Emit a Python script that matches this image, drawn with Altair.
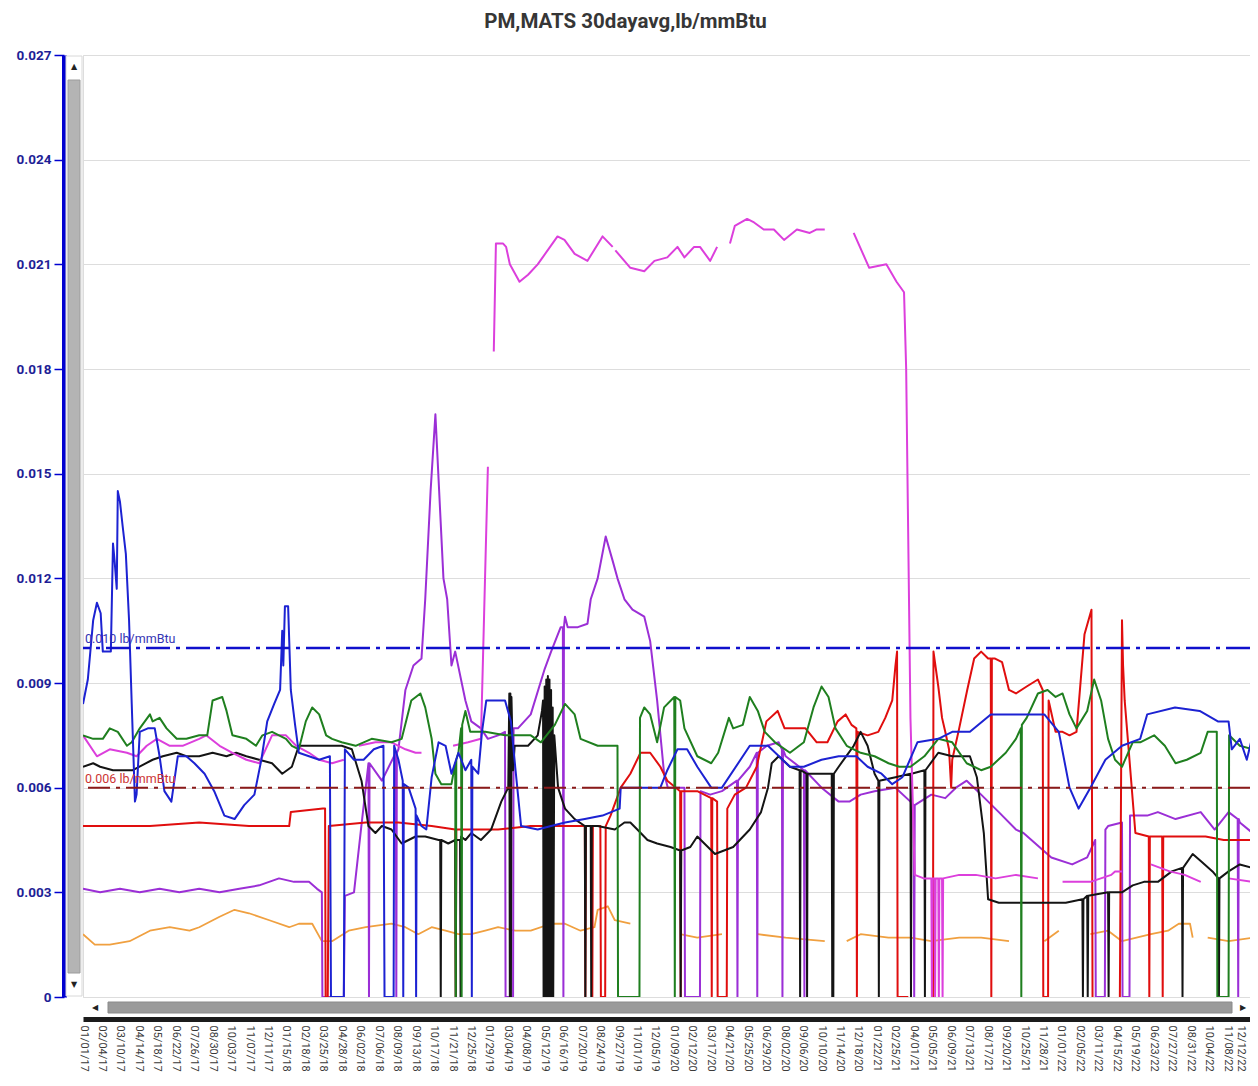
import altair as alt
import pandas as pd

TITLE = "PM,MATS 30dayavg,lb/mmBtu"
START_DATE = "2017-01-01"
END_DATE = "2022-12-20"

TICK_LABELS = [
    "01/01/17", "02/04/17", "03/10/17", "04/14/17", "05/18/17", "06/22/17", "07/26/17", "08/30/17",
    "10/03/17", "11/07/17", "12/11/17", "01/15/18", "02/18/18", "03/25/18", "04/28/18", "06/02/18",
    "07/06/18", "08/09/18", "09/13/18", "10/17/18", "11/21/18", "12/25/18", "01/29/19", "03/04/19",
    "04/08/19", "05/12/19", "06/16/19", "07/20/19", "08/24/19", "09/27/19", "11/01/19", "12/05/19",
    "01/09/20", "02/12/20", "03/17/20", "04/21/20", "05/25/20", "06/29/20", "08/02/20", "09/06/20",
    "10/10/20", "11/14/20", "12/18/20", "01/22/21", "02/25/21", "04/01/21", "05/05/21", "06/09/21",
    "07/13/21", "08/17/21", "09/20/21", "10/25/21", "11/28/21", "01/01/22", "02/05/22", "03/11/22",
    "04/15/22", "05/19/22", "06/23/22", "07/27/22", "08/31/22", "10/04/22", "11/08/22", "12/12/22",
]
Y_TICKS = [0, 0.003, 0.006, 0.009, 0.012, 0.015, 0.018, 0.021, 0.024, 0.027]

LIMIT_VALUES = [0.010, 0.006]
LIMIT_LABELS = ["0.010 lb/mmBtu", "0.006 lb/mmBtu"]

# Each series: list of segments, each segment a list of (days since 2017-01-01, lb/mmBtu)
BLUE = [[
    (0, .0084), (9, .0091), (19, .0108), (26, .0113), (33, .0110), (37, .0099), (52, .0099), (56, .0130),
    (59, .0125), (63, .0117), (65, .0145), (69, .0142), (74, .0135), (80, .0127), (86, .0108), (91, .0084),
    (97, .0056), (100, .0058), (106, .0076), (121, .0077), (134, .0077), (143, .0069), (152, .0059),
    (165, .0056), (177, .0069), (193, .0069), (208, .0067), (227, .0064), (245, .0059), (264, .0052),
    (283, .0051), (301, .0055), (320, .0058), (333, .0068), (344, .0079), (357, .0084), (368, .0088),
    (372, .0105), (374, .0095), (377, .0112), (383, .0112), (388, .0088), (396, .0078), (403, .0070),
    (422, .0069), (441, .0068), (461, .0069), (463, 0), (487, 0), (489, .0071), (506, .0068), (524, .0068),
    (543, .0071), (561, .0072), (563, 0), (580, 0), (581, .0072), (589, .0068), (597, .0062), (598, 0),
    (599, .0061), (608, .0060), (621, .0054), (622, 0), (623, .0052), (632, .0049), (641, .0048),
    (651, .0063), (664, .0073), (677, .0072), (688, .0064), (701, .0070), (714, .0065), (725, .0068),
    (726, 0), (727, .0066), (738, .0064), (745, .0076), (753, .0085), (788, .0085), (799, .0079),
    (807, .0066), (818, .0049), (849, .0048), (874, .0049), (900, .0050), (937, .0051), (970, .0052),
    (1002, .0054), (1004, .0060), (1078, .0060), (1091, .0065), (1110, .0071), (1128, .0071), (1147, .0066),
    (1173, .0060), (1193, .0060), (1245, .0072), (1279, .0072), (1320, .0066), (1346, .0066), (1379, .0068),
    (1411, .0069), (1444, .0069), (1465, .0066), (1491, .0064), (1511, .0061), (1530, .0063), (1558, .0073),
    (1597, .0074), (1623, .0076), (1656, .0076), (1695, .0081), (1756, .0081), (1795, .0081), (1822, .0076),
    (1842, .0060), (1859, .0054), (1881, .0060), (1909, .0068), (1940, .0072), (1974, .0074), (1987, .0081),
    (2039, .0083), (2085, .0082), (2119, .0079), (2139, .0079), (2145, .0071), (2160, .0074), (2173, .0068),
    (2184, .0075),
]]

GREEN = [[
    (0, .0075), (19, .0074), (37, .0074), (50, .0077), (65, .0076), (82, .0072), (91, .0073), (106, .0077),
    (125, .0081), (130, .0079), (143, .0080), (156, .0077), (175, .0074), (193, .0074), (217, .0075),
    (232, .0075), (242, .0085), (260, .0086), (268, .0082), (279, .0075), (305, .0074), (323, .0072),
    (335, .0075), (353, .0076), (379, .0074), (390, .0072), (403, .0071), (416, .0079), (428, .0083),
    (441, .0081), (454, .0075), (465, .0074), (483, .0073), (509, .0072), (539, .0074), (576, .0073),
    (595, .0074), (613, .0085), (630, .0087), (639, .0083), (651, .0074), (658, .0064), (669, .0061),
    (688, .0061), (695, .0067), (696, 0), (697, .0068), (701, .0070), (706, .0077), (707, 0), (708, .0078),
    (714, .0082), (723, .0076), (751, .0076), (788, .0075), (812, .0075), (836, .0075), (855, .0073),
    (881, .0078), (900, .0084), (918, .0081), (929, .0074), (961, .0072), (993, .0072), (998, .0072),
    (999, 0), (1039, 0), (1040, .0080), (1048, .0083), (1059, .0081), (1072, .0073), (1085, .0083),
    (1104, .0086), (1105, 0), (1106, .0086), (1115, .0085), (1123, .0077), (1147, .0069), (1173, .0067),
    (1186, .0070), (1206, .0080), (1214, .0077), (1232, .0078), (1245, .0086), (1260, .0082), (1273, .0076),
    (1292, .0073), (1320, .0070), (1346, .0073), (1364, .0083), (1379, .0089), (1392, .0086), (1405, .0077),
    (1426, .0072), (1452, .0070), (1478, .0069), (1504, .0067), (1524, .0066), (1545, .0066), (1571, .0069),
    (1597, .0074), (1623, .0073), (1650, .0067), (1677, .0065), (1695, .0066), (1723, .0070), (1742, .0074),
    (1751, .0077), (1752, 0), (1753, .0078), (1762, .0080), (1783, .0087), (1801, .0088), (1816, .0086),
    (1829, .0087), (1842, .0081), (1855, .0077), (1875, .0082), (1888, .0091), (1901, .0085), (1914, .0074),
    (1927, .0068), (1940, .0066), (1960, .0073), (1974, .0073), (2000, .0075), (2020, .0072), (2040, .0067),
    (2061, .0068), (2087, .0070), (2100, .0076), (2117, .0076), (2118, 0), (2139, 0), (2140, .0075),
    (2160, .0072), (2184, .0071),
]]

MAGENTA = [
    [(0, .0075), (26, .0069), (50, .0071), (82, .0070), (100, .0069), (119, .0072), (138, .0074), (162, .0072),
     (186, .0072), (217, .0074), (230, .0075), (255, .0072), (279, .0070), (305, .0068), (329, .0067),
     (353, .0075), (379, .0075), (398, .0072), (422, .0070), (441, .0068), (465, .0067), (487, .0068)],
    [(515, .0072), (546, .0073), (576, .0073), (602, .0071), (621, .0070), (632, .0070)],
    [(691, .0072), (719, .0073), (743, .0074), (749, .0110), (756, .0152)],
    [(767, .0185), (771, .0216), (784, .0216), (790, .0215), (797, .0210), (815, .0205), (831, .0207),
     (849, .0210), (886, .0218), (899, .0217), (918, .0213), (942, .0211), (970, .0218), (989, .0215)],
    [(994, .0214), (1022, .0209), (1048, .0208), (1067, .0211), (1091, .0212), (1110, .0215), (1123, .0212),
     (1141, .0215), (1152, .0215), (1171, .0211), (1184, .0215)],
    [(1208, .0216), (1217, .0221), (1240, .0223), (1253, .0222), (1271, .0220), (1290, .0220), (1309, .0217),
     (1333, .0220), (1357, .0219), (1370, .0220), (1385, .0220)],
    [(1439, .0219), (1468, .0209), (1500, .0210), (1519, .0205), (1533, .0202), (1537, .0180), (1545, .0080),
     (1553, .0035), (1570, .0034), (1584, .0034), (1585, 0), (1586, .0034), (1590, .0034), (1591, 0),
     (1592, .0034), (1597, .0034), (1598, 0), (1599, .0034), (1604, .0034), (1605, 0), (1606, .0034),
     (1636, .0035), (1667, .0035), (1704, .0034), (1742, .0035), (1783, .0034)],
    [(1829, .0033), (1881, .0033), (1920, .0035), (1927, .0036), (1940, .0036)],
    [(1994, .0038), (2029, .0036), (2057, .0035), (2087, .0033)],
    [(2139, .0034), (2184, .0033)],
]

BLACK = [[
    (0, .0066), (19, .0067), (32, .0066), (56, .0065), (93, .0065), (130, .0068), (149, .0069), (175, .0070),
    (193, .0069), (217, .0069), (242, .0070), (268, .0069), (286, .0070), (305, .0069), (329, .0068),
    (353, .0067), (372, .0064), (390, .0066), (403, .0072), (483, .0072), (502, .0071), (520, .0062),
    (533, .0049), (546, .0047), (558, .0049), (576, .0048), (595, .0044), (621, .0046), (639, .0046),
    (664, .0045), (667, .0045), (668, 0), (669, .0045), (682, .0044), (695, .0045), (696, 0), (697, .0045),
    (704, .0045), (705, 0), (706, .0046), (714, .0045), (725, .0047), (743, .0045), (762, .0048),
    (781, .0056), (794, .0060), (796, .0087), (797, 0), (798, .0087), (799, 0), (800, .0086), (803, .0065),
    (806, .0072), (831, .0072), (849, .0075), (857, .0082), (859, .0085), (860, 0), (862, .0089), (863, 0),
    (865, .0091), (866, 0), (868, .0092), (869, 0), (871, .0091), (872, 0), (874, .0088), (875, 0),
    (877, .0083), (878, 0), (880, .0075), (887, .0060), (900, .0054), (918, .0051), (937, .0049), (938, 0),
    (939, .0049), (948, .0049), (949, 0), (950, .0049), (961, .0049), (993, .0048), (1011, .0050),
    (1022, .0050), (1035, .0048), (1054, .0045), (1072, .0044), (1097, .0043), (1115, .0042), (1116, 0),
    (1117, .0042), (1134, .0043), (1147, .0046), (1180, .0041), (1214, .0043), (1245, .0048), (1266, .0053),
    (1279, .0060), (1286, .0067), (1299, .0069), (1320, .0066), (1338, .0065), (1339, 0), (1340, .0065),
    (1351, .0064), (1352, 0), (1353, .0064), (1398, .0064), (1399, 0), (1400, .0064), (1401, 0),
    (1402, .0064), (1411, .0066), (1439, .0072), (1452, .0076), (1465, .0072), (1478, .0064), (1485, .0062),
    (1486, 0), (1487, .0062), (1517, .0063), (1545, .0064), (1546, 0), (1547, .0064), (1571, .0065),
    (1572, 0), (1573, .0065), (1597, .0070), (1623, .0069), (1656, .0069), (1669, .0063), (1682, .0047),
    (1690, .0028), (1710, .0027), (1742, .0027), (1783, .0027), (1808, .0027), (1835, .0027), (1866, .0028),
    (1867, 0), (1868, .0028), (1875, .0029), (1876, 0), (1877, .0029), (1914, .0030), (1915, 0),
    (1916, .0030), (1940, .0030), (1960, .0032), (1981, .0033), (2007, .0033), (2033, .0036), (2052, .0037),
    (2053, 0), (2054, .0037), (2072, .0041), (2087, .0039), (2109, .0036), (2120, .0034), (2121, 0),
    (2122, .0034), (2139, .0036), (2160, .0038), (2184, .0037),
]]

RED = [
    [(0, .0049), (125, .0049), (217, .0050), (310, .0049), (385, .0049), (388, .0053), (448, .0054),
     (452, .0054), (453, 0), (457, 0), (459, .0049), (528, .0050), (589, .0050), (651, .0049), (695, .0048),
     (696, 0), (697, .0048), (714, .0048), (751, .0048), (775, .0048), (836, .0049), (900, .0049),
     (937, .0049), (938, 0), (939, .0049), (950, .0049), (951, 0), (952, .0049), (966, .0049), (967, 0),
     (975, 0), (976, .0049), (985, .0052), (1004, .0060), (1022, .0064), (1041, .0070), (1059, .0070),
     (1078, .0066), (1091, .0062), (1115, .0059), (1116, 0), (1117, .0059), (1147, .0059), (1160, .0058),
     (1173, .0057), (1174, 0), (1175, .0057), (1184, .0056), (1185, 0), (1202, 0), (1203, .0054),
     (1217, .0058), (1238, .0060), (1258, .0066), (1276, .0079), (1297, .0082), (1310, .0077), (1331, .0077),
     (1349, .0077), (1370, .0073), (1390, .0073), (1409, .0079), (1424, .0081), (1435, .0078), (1444, .0077),
     (1445, 0), (1446, .0076), (1465, .0075), (1485, .0076), (1498, .0080), (1511, .0085), (1517, .0095),
     (1520, .0099), (1521, 0), (1541, 0)],
    [(1587, 0), (1588, .0099), (1597, .0089), (1604, .0080), (1610, .0076), (1617, .0071), (1621, .0060),
     (1623, .0068), (1636, .0077), (1651, .0088), (1664, .0097), (1677, .0099), (1690, .0097), (1695, .0097),
     (1696, 0), (1697, .0097), (1703, .0097), (1716, .0096), (1729, .0088), (1742, .0087), (1762, .0089),
     (1783, .0091), (1792, .0088), (1793, 0), (1802, 0), (1803, .0085), (1816, .0076), (1829, .0076),
     (1842, .0075), (1855, .0076), (1870, .0104), (1883, .0111), (1885, 0)],
    [(1936, 0), (1940, .0108), (1942, .0095), (1945, .0085), (1965, .0047), (1990, .0046), (1991, 0),
     (1992, .0046), (2015, .0046), (2016, 0), (2017, .0046), (2063, .0046), (2096, .0046), (2130, .0045),
     (2184, .0045)],
]

PURPLE = [[
    (0, .0031), (32, .0030), (69, .0031), (106, .0030), (143, .0031), (180, .0030), (217, .0031), (255, .0030),
    (292, .0031), (329, .0032), (366, .0034), (394, .0033), (422, .0033), (437, .0031), (446, .0030),
    (447, 0), (487, 0), (489, .0029), (506, .0030), (519, .0048), (533, .0067), (534, 0), (535, .0067),
    (558, .0062), (584, .0070), (585, 0), (586, .0070), (589, .0071), (602, .0088), (617, .0095),
    (632, .0097), (639, .0114), (649, .0145), (658, .0167), (665, .0145), (673, .0120), (680, .0114),
    (688, .0095), (695, .0099), (714, .0085), (725, .0079), (743, .0077), (756, .0074), (775, .0075),
    (788, .0076), (789, 0), (803, 0), (804, .0077), (812, .0077), (836, .0081), (862, .0094), (874, .0099),
    (892, .0106), (896, .0106), (897, 0), (898, .0106), (900, .0109), (905, .0106), (924, .0106),
    (942, .0107), (948, .0114), (961, .0120), (976, .0132), (989, .0125), (998, .0120), (1011, .0114),
    (1026, .0111), (1048, .0109), (1059, .0102), (1072, .0085), (1085, .0064), (1092, .0060), (1115, .0060),
    (1123, .0060), (1124, 0), (1152, 0), (1153, .0059), (1171, .0058), (1193, .0059), (1221, .0062),
    (1222, 0), (1223, .0062), (1245, .0066), (1258, .0070), (1259, 0), (1260, .0070), (1277, .0072),
    (1299, .0073), (1305, .0071), (1306, 0), (1307, .0071), (1312, .0069), (1346, .0065), (1347, 0),
    (1348, .0065), (1379, .0060), (1411, .0056), (1431, .0056), (1452, .0058), (1478, .0059), (1517, .0060),
    (1545, .0056), (1551, .0055), (1552, 0), (1553, .0055), (1584, .0058), (1610, .0057), (1630, .0060),
    (1650, .0062), (1677, .0058), (1710, .0053), (1742, .0048), (1756, .0047), (1808, .0040), (1847, .0038),
    (1875, .0040), (1890, .0045), (1891, 0), (1908, 0), (1909, .0048), (1914, .0049), (1940, .0050),
    (1941, 0), (1954, 0), (1955, .0052), (1987, .0052), (2007, .0053), (2040, .0051), (2087, .0053),
    (2113, .0048), (2139, .0053), (2156, .0051), (2157, 0), (2158, .0051), (2160, .0050), (2184, .0047),
]]

ORANGE = [
    [(0, .0018), (22, .0015), (50, .0015), (87, .0016), (125, .0019), (162, .0020), (199, .0019), (217, .0020),
     (255, .0023), (283, .0025), (310, .0024), (348, .0022), (385, .0020), (403, .0021), (428, .0021),
     (446, .0016), (465, .0016), (496, .0019), (528, .0020), (576, .0021), (602, .0020), (626, .0018),
     (651, .0020), (677, .0019), (701, .0018), (725, .0018), (751, .0019), (775, .0020), (807, .0019),
     (836, .0019), (874, .0021), (900, .0021), (929, .0019), (955, .0020), (961, .0025), (980, .0026),
     (993, .0022), (1022, .0021)],
    [(1115, .0018), (1147, .0017), (1193, .0018)],
    [(1260, .0018), (1312, .0017), (1385, .0016)],
    [(1426, .0016), (1452, .0018), (1504, .0017), (1545, .0017), (1584, .0016), (1636, .0017), (1677, .0017),
     (1729, .0016)],
    [(1795, .0016), (1822, .0019)],
    [(1881, .0018), (1914, .0019), (1940, .0016), (1994, .0018), (2026, .0019), (2046, .0021), (2067, .0021),
     (2072, .0017)],
    [(2100, .0017), (2139, .0016), (2184, .0017)],
]

SERIES = [
    ("orange", ORANGE, "#f0a040", 1.8),
    ("purple", PURPLE, "#9b2fd6", 2.0),
    ("red", RED, "#e00e0e", 2.0),
    ("black", BLACK, "#141414", 2.0),
    ("magenta", MAGENTA, "#dc3fdc", 2.0),
    ("green", GREEN, "#1f7f1f", 2.0),
    ("blue", BLUE, "#1c22d2", 2.0),
]

# ---------------- build table ----------------
start = pd.Timestamp(START_DATE)
rows = []
k = 0
for name, segs, _c, _w in SERIES:
    for si, seg in enumerate(segs):
        for d, v in seg:
            rows.append({
                "series": name,
                "seg": f"{name}-{si}",
                "k": k,
                "date": (start + pd.Timedelta(days=d)).strftime("%Y-%m-%dT%H:%M:%S"),
                "value": v,
            })
            k += 1
df = pd.DataFrame(rows)


def to_dt(s):
    m, d, y = s.split("/")
    return alt.DateTime(year=2000 + int(y), month=int(m), date=int(d))


tick_dates = [to_dt(s) for s in TICK_LABELS]
sy, sm, sd = [int(p) for p in START_DATE.split("-")]
ey, em, ed = [int(p) for p in END_DATE.split("-")]

X = alt.X(
    "date:T",
    scale=alt.Scale(domain=[alt.DateTime(year=sy, month=sm, date=sd), alt.DateTime(year=ey, month=em, date=ed)]),
    axis=alt.Axis(
        values=tick_dates, format="%m/%d/%y", labelAngle=90, labelAlign="left", labelBaseline="middle",
        labelPadding=6, labelFontSize=11, labelFont="Roboto", labelColor="#3a3a3a",
        labelOffset={"condition": {"test": "datum.value > datetime(2022, 10, 30)", "value": -5}, "value": 0},
        ticks=False, tickSize=0, domainColor="#1b1b1b", domainWidth=5, offset=22,
        grid=False, title=None, labelOverlap=False, labelFlush=False,
    ),
)
Y = alt.Y(
    "value:Q",
    scale=alt.Scale(domain=[0, 0.027], nice=False, zero=True),
    axis=alt.Axis(
        values=Y_TICKS, labelExpr="datum.value == 0 ? '0' : format(datum.value, '.3f')",
        labelFont="Roboto", labelFontSize=13.5, labelFontWeight="bold", labelColor="#1e1e96", labelPadding=3,
        domainColor="#0000d0", domainWidth=5, offset=19, tickColor="#0000d0", tickSize=10, tickWidth=1.5,
        grid=True, gridColor="#dddddd", gridWidth=1, title=None,
    ),
)

layers = []
for name, _segs, color, w in SERIES:
    layers.append(
        alt.Chart(df).transform_filter(alt.datum.series == name)
        .mark_line(color=color, strokeWidth=w, clip=True, strokeJoin="round")
        .encode(x=X, y=Y, detail="seg:N", order="k:Q")
    )

lim_df = pd.DataFrame({"value": LIMIT_VALUES, "label": LIMIT_LABELS})
up = lim_df.iloc[[0]]
lo = lim_df.iloc[[1]]
rule_up = alt.Chart(up).mark_rule(color="#1010cc", strokeWidth=2.5, strokeDash=[24, 6, 4, 6]).encode(y=Y)
rule_lo = alt.Chart(lo).mark_rule(color="#8b1a1a", strokeWidth=2, strokeDash=[22, 6, 4, 6]).encode(y=Y)
txt_up = alt.Chart(up).mark_text(align="left", baseline="bottom", dx=2, dy=-2, fontSize=12.5,
                                 font="Roboto", color="#3434b4").encode(x=alt.value(0), y=Y, text="label:N")
txt_lo = alt.Chart(lo).mark_text(align="left", baseline="bottom", dx=2, dy=-2, fontSize=12.5,
                                 font="Roboto", color="#cc3434").encode(x=alt.value(0), y=Y, text="label:N")

# scrollbar decorations (UI chrome of the original widget)
one = alt.Data(values=[{"a": 1}])
vtrack = alt.Chart(one).mark_rect(fill="#ffffff", stroke="#d8d8d8", strokeWidth=1).encode(
    x=alt.value(-17), x2=alt.value(-1), y=alt.value(1), y2=alt.value(941))
vthumb = alt.Chart(one).mark_rect(fill="#b4b4b4", stroke="#9c9c9c", strokeWidth=1).encode(
    x=alt.value(-15), x2=alt.value(-3), y=alt.value(25), y2=alt.value(918))
hthumb = alt.Chart(one).mark_rect(fill="#9a9a9a", stroke="#8a8a8a", strokeWidth=1).encode(
    x=alt.value(25), x2=alt.value(1149), y=alt.value(947), y2=alt.value(958))
arrows = alt.Chart(alt.Data(values=[
    {"t": "\u25B2", "px": -9, "py": 12}, {"t": "\u25BC", "px": -9, "py": 930},
    {"t": "\u25C0", "px": 12, "py": 953}, {"t": "\u25B6", "px": 1160, "py": 953},
])).mark_text(fontSize=8, font="DejaVu Sans", color="#222222").encode(
    x=alt.X("px:Q", scale=None), y=alt.Y("py:Q", scale=None), text="t:N")

chart = alt.layer(
    vtrack, vthumb, hthumb, arrows, *layers, rule_up, rule_lo, txt_up, txt_lo
).properties(
    width=1167, height=942,
    title=alt.TitleParams(TITLE, font="Roboto", fontSize=20.5, fontWeight="bold", color="#363636",
                          anchor="middle", dx=-41, offset=16),
    autosize=alt.AutoSizeParams(type="none"),
    padding={"left": 75, "top": 47, "right": 0, "bottom": 75},
).configure_view(
    stroke="#6e6e6e", strokeWidth=1, fill="#fcfcfc"
).configure(background="#ffffff")

chart.save("out.html", embed_options={"renderer": "svg", "actions": False})
